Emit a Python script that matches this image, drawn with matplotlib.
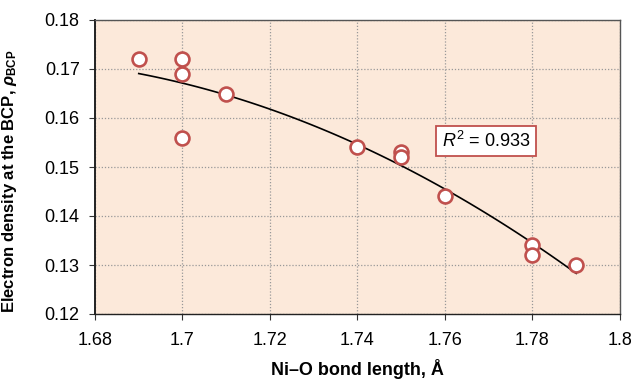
import matplotlib.pyplot as plt
import numpy as np

plt.rcParams['font.family'] = ['Liberation Sans', 'DejaVu Sans']
plt.rcParams['mathtext.fontset'] = 'custom'
plt.rcParams['mathtext.rm'] = 'Liberation Sans'
plt.rcParams['mathtext.it'] = 'Liberation Sans:italic'
plt.rcParams['mathtext.bf'] = 'Liberation Sans:bold'
plt.rcParams['mathtext.bfit'] = 'Liberation Sans:italic:bold'

# Ni-O bond length (A) vs electron density at BCP
bond_length = [1.69, 1.70, 1.70, 1.70, 1.71, 1.74, 1.75, 1.75, 1.76, 1.78, 1.78, 1.79]
rho_bcp = [0.172, 0.172, 0.169, 0.156, 0.165, 0.154, 0.153, 0.152, 0.144, 0.134, 0.132, 0.130]
r2_text = '0.933'

x_ticks = [1.68, 1.70, 1.72, 1.74, 1.76, 1.78, 1.80]
x_tick_labels = ['1.68', '1.7', '1.72', '1.74', '1.76', '1.78', '1.8']
y_ticks = [0.12, 0.13, 0.14, 0.15, 0.16, 0.17, 0.18]


def main():
    fig = plt.figure(figsize=(6.33, 3.84), dpi=100)
    ax = fig.add_axes([95 / 633, 70 / 384, 525 / 633, 294 / 384])
    ax.set_facecolor('#FCE9DA')

    # 2次の近似曲線 (Excelのtrendline相当)
    coef = np.polyfit(bond_length, rho_bcp, 2)
    xs = np.linspace(min(bond_length), max(bond_length), 100)
    ax.plot(xs, np.polyval(coef, xs), color='black', lw=1.2, zorder=3)

    ax.scatter(bond_length, rho_bcp, s=100, facecolor='white', edgecolor='#C0504D',
               linewidths=1.9, zorder=4)

    ax.set_xlim(1.68, 1.80)
    ax.set_ylim(0.12, 0.18)
    ax.set_xticks(x_ticks)
    ax.set_xticklabels(x_tick_labels)
    ax.set_yticks(y_ticks)
    ax.set_yticklabels([f'{v:.2f}' for v in y_ticks])
    ax.tick_params(labelsize=13, direction='out', length=4, color='#333333')
    ax.tick_params(axis='x', pad=9)
    ax.tick_params(axis='y', pad=7)
    ax.grid(True, linestyle=(0, (1, 1.5)), color='#999999', lw=0.9)
    for s in ax.spines.values():
        s.set_color('#555555')
        s.set_linewidth(1.0)
    ax.spines['left'].set_color('#222222')
    ax.spines['left'].set_linewidth(1.4)
    ax.spines['bottom'].set_color('#222222')

    ax.set_xlabel('Ni–O bond length, Å', fontsize=13, fontweight='bold', labelpad=7)
    ax.set_ylabel(r'Electron density at the BCP, $\mathbfit{\rho}_{\mathbf{BCP}}$',
                  fontsize=12, fontweight='bold')
    ax.yaxis.set_label_coords(-0.145, 0.45)

    ax.text(1.7694, 0.1553, r'$\it{R}^2$ = ' + r2_text, fontsize=13, ha='center', va='center',
            bbox=dict(boxstyle='square,pad=0.3', facecolor='white', edgecolor='#C0504D', lw=1.3),
            zorder=5)

    fig.savefig('out.png', dpi=100)


if __name__ == "__main__":
    main()
